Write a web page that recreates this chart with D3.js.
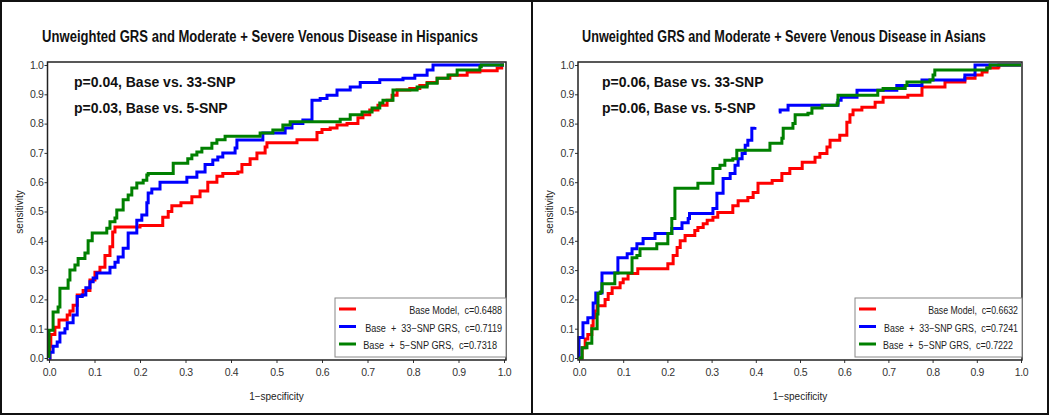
<!DOCTYPE html>
<html><head><meta charset="utf-8">
<script src="https://cdn.jsdelivr.net/npm/d3@7"></script>
<style>
html,body{margin:0;padding:0;background:#fff;}
svg{display:block;}
</style></head>
<body>
<svg id="chart" width="1050" height="416"></svg>
<script>
// ---- data (fpr, sensitivity) step points ----
const titles = ["Unweighted GRS and Moderate + Severe Venous Disease in Hispanics",
                "Unweighted GRS and Moderate + Severe Venous Disease in Asians"];
const pTexts = [["p=0.04, Base vs. 33-SNP", "p=0.03, Base vs. 5-SNP"],
                ["p=0.06, Base vs. 33-SNP", "p=0.06, Base vs. 5-SNP"]];
const legendHisp = ["Base Model,  c=0.6488", "Base  +  33\u2212SNP GRS,  c=0.7119", "Base  +  5\u2212SNP GRS,  c=0.7318"];
const legendAsian = ["Base Model,  c=0.6632", "Base  +  33\u2212SNP GRS,  c=0.7241", "Base  +  5\u2212SNP GRS,  c=0.7222"];
const tickValues = [0,0.1,0.2,0.3,0.4,0.5,0.6,0.7,0.8,0.9,1.0];
const xLabel = "1\u2212specificity";
const yLabel = "sensitivity";
const seriesColors = ["#ff0000", "#0000ff", "#008000"];

const hispRed = [[0,0],[0.002,0.04],[0.004,0.08],[0.013,0.105],[0.022,0.13],[0.04,0.147],[0.046,0.16],[0.053,0.18],[0.062,0.215],[0.075,0.23],[0.09,0.266],[0.101,0.293],[0.112,0.31],[0.123,0.35],[0.134,0.38],[0.14,0.43],[0.145,0.447],[0.2,0.452],[0.25,0.48],[0.262,0.5],[0.27,0.52],[0.29,0.53],[0.314,0.55],[0.332,0.57],[0.349,0.6],[0.369,0.62],[0.382,0.63],[0.415,0.635],[0.424,0.66],[0.442,0.68],[0.457,0.70],[0.475,0.72],[0.479,0.735],[0.545,0.745],[0.589,0.77],[0.6,0.78],[0.618,0.785],[0.633,0.795],[0.655,0.80],[0.679,0.82],[0.69,0.83],[0.705,0.846],[0.723,0.863],[0.743,0.88],[0.754,0.897],[0.765,0.915],[0.793,0.92],[0.815,0.93],[0.831,0.94],[0.853,0.955],[0.881,0.965],[0.919,0.976],[0.947,0.98],[0.985,0.99],[0.995,1.0],[1,1]];
const hispBlue = [[0,0],[0.002,0.02],[0.009,0.04],[0.018,0.055],[0.024,0.085],[0.035,0.10],[0.04,0.12],[0.053,0.147],[0.062,0.21],[0.073,0.215],[0.081,0.24],[0.09,0.26],[0.097,0.273],[0.105,0.29],[0.134,0.31],[0.145,0.327],[0.152,0.345],[0.163,0.375],[0.174,0.427],[0.193,0.47],[0.204,0.488],[0.215,0.53],[0.218,0.563],[0.226,0.577],[0.244,0.60],[0.303,0.617],[0.325,0.635],[0.343,0.66],[0.36,0.676],[0.371,0.686],[0.382,0.70],[0.409,0.717],[0.413,0.744],[0.47,0.768],[0.519,0.785],[0.534,0.80],[0.558,0.812],[0.578,0.83],[0.578,0.88],[0.596,0.886],[0.611,0.897],[0.633,0.915],[0.662,0.925],[0.684,0.94],[0.727,0.95],[0.778,0.955],[0.804,0.965],[0.831,0.983],[0.844,1.0],[1,1]];
const hispGreen = [[0,0],[0,0.095],[0.009,0.157],[0.02,0.174],[0.024,0.238],[0.042,0.266],[0.046,0.30],[0.057,0.317],[0.064,0.34],[0.079,0.358],[0.086,0.40],[0.095,0.427],[0.127,0.443],[0.134,0.465],[0.145,0.478],[0.149,0.505],[0.163,0.54],[0.174,0.556],[0.182,0.58],[0.193,0.597],[0.207,0.607],[0.215,0.625],[0.218,0.63],[0.273,0.665],[0.305,0.68],[0.314,0.693],[0.325,0.703],[0.336,0.716],[0.358,0.733],[0.369,0.745],[0.387,0.757],[0.464,0.768],[0.492,0.778],[0.514,0.795],[0.53,0.806],[0.64,0.815],[0.662,0.83],[0.688,0.84],[0.71,0.853],[0.727,0.87],[0.734,0.88],[0.756,0.915],[0.809,0.925],[0.831,0.938],[0.853,0.955],[0.877,0.966],[0.897,0.983],[0.947,0.994],[0.95,1.0],[1,1]];

const asianRed = [[0,0],[0.007,0.035],[0.014,0.065],[0.02,0.08],[0.029,0.11],[0.032,0.137],[0.036,0.16],[0.041,0.178],[0.059,0.20],[0.066,0.22],[0.075,0.24],[0.093,0.257],[0.1,0.27],[0.111,0.288],[0.133,0.305],[0.201,0.322],[0.213,0.35],[0.222,0.377],[0.229,0.40],[0.24,0.418],[0.262,0.435],[0.269,0.445],[0.281,0.458],[0.29,0.47],[0.303,0.48],[0.314,0.497],[0.348,0.52],[0.36,0.537],[0.382,0.548],[0.394,0.565],[0.405,0.596],[0.437,0.606],[0.459,0.63],[0.477,0.647],[0.505,0.668],[0.534,0.685],[0.545,0.698],[0.561,0.72],[0.568,0.743],[0.59,0.76],[0.606,0.805],[0.613,0.83],[0.62,0.846],[0.64,0.856],[0.67,0.873],[0.688,0.89],[0.744,0.897],[0.776,0.925],[0.828,0.942],[0.873,0.955],[0.896,0.966],[0.912,0.976],[0.923,0.99],[0.948,0.993],[0.95,1.0],[1,1]];
const asianBlue = [[0,0],[0,0.07],[0.009,0.12],[0.02,0.137],[0.032,0.188],[0.038,0.222],[0.052,0.29],[0.088,0.342],[0.109,0.356],[0.12,0.373],[0.131,0.39],[0.145,0.408],[0.172,0.425],[0.21,0.442],[0.233,0.462],[0.247,0.476],[0.25,0.493],[0.303,0.51],[0.312,0.562],[0.326,0.613],[0.342,0.63],[0.353,0.658],[0.36,0.68],[0.369,0.698],[0.376,0.726],[0.382,0.743],[0.391,0.784],[0.398,0.788],null,[0.452,0.84],[0.455,0.846],[0.473,0.863],[0.586,0.88],[0.593,0.89],[0.629,0.914],[0.719,0.93],[0.776,0.949],[0.873,0.966],[0.896,1.0],[1,1]];
const asianGreen = [[0,0],[0.007,0.035],[0.018,0.05],[0.029,0.10],[0.041,0.15],[0.043,0.22],[0.048,0.225],[0.052,0.253],[0.081,0.29],[0.12,0.342],[0.131,0.35],[0.138,0.373],[0.176,0.39],[0.201,0.425],[0.21,0.476],[0.217,0.579],[0.269,0.596],[0.303,0.647],[0.319,0.658],[0.33,0.675],[0.348,0.68],[0.357,0.709],[0.432,0.733],[0.459,0.75],[0.462,0.784],[0.484,0.80],[0.489,0.83],[0.518,0.835],[0.527,0.853],[0.55,0.863],[0.584,0.87],[0.586,0.897],[0.676,0.914],[0.688,0.92],[0.738,0.93],[0.742,0.942],[0.794,0.949],[0.801,0.966],[0.805,0.983],[0.923,0.99],[0.93,1.0],[1,1]];

// ---- drawing ----
const svg = d3.select("#chart");
const FONT = "'Liberation Sans', Arial, sans-serif";
const NARROW = "'Liberation Sans Narrow', 'Arial Narrow', 'Liberation Sans', Arial, sans-serif";

// place a text with its anchor at (x,y), then squeeze horizontally to a target width
function fitText(sel, x, y, width) {
  sel.attr("x", 0).attr("y", 0).attr("transform", `translate(${x},${y})`);
  const w = sel.node().getComputedTextLength();
  const s = w > 0 ? width / w : 1;
  sel.attr("transform", `translate(${x},${y}) scale(${s},1)`);
  return sel;
}

// outer frame
const outer = svg.append("g").attr("stroke", "#111").attr("stroke-width", 2).attr("fill", "none");
outer.append("rect").attr("x", 1).attr("y", 1).attr("width", 1047).attr("height", 413);
outer.append("line").attr("x1", 532).attr("x2", 532).attr("y1", 1).attr("y2", 414);

const panels = [
  {title: titles[0], p: pTexts[0], legend: legendHisp, series: [hispRed, hispBlue, hispGreen],
   px0: 49, px1: 504, frameL: 47.5, frameR: 506, titleX: 260, titleW: 436, pX: 74, ylabX: 20,
   legX: 335, legR: 506, legW: [93, 137, 134], legEnd: [502, 502, 497]},
  {title: titles[1], p: pTexts[1], legend: legendAsian, series: [asianRed, asianBlue, asianGreen],
   px0: 579, px1: 1021, frameL: 578, frameR: 1022, titleX: 784, titleW: 404, pX: 602, ylabX: 550,
   legX: 855, legR: 1022, legW: [90, 134, 130], legEnd: [1018, 1018, 1013]}
];

const py0 = 358, py1 = 65, frameT = 62, frameB = 360;

panels.forEach(P => {
  const g = svg.append("g");
  const x = d3.scaleLinear().domain([0, 1]).range([P.px0, P.px1]);
  const y = d3.scaleLinear().domain([0, 1]).range([py0, py1]);

  // title
  const t = g.append("text").attr("text-anchor", "middle")
    .attr("font-family", NARROW).attr("font-weight", "bold").attr("font-size", 17)
    .attr("fill", "#111").text(P.title);
  fitText(t, P.titleX, 42, P.titleW);

  // axes
  const xAxis = d3.axisBottom(x).tickValues(tickValues).tickFormat(d3.format(".1f")).tickSize(3).tickPadding(6);
  const yAxis = d3.axisLeft(y).tickValues(tickValues).tickFormat(d3.format(".1f")).tickSize(3).tickPadding(1);
  const gx = g.append("g").attr("transform", `translate(0,${frameB})`).call(xAxis);
  const gy = g.append("g").attr("transform", `translate(${P.frameL},0)`).call(yAxis);
  [gx, gy].forEach(a => {
    a.select(".domain").remove();
    a.selectAll(".tick line").attr("stroke", "#333");
    a.selectAll(".tick text").attr("font-family", FONT).attr("font-size", 10.5)
      .attr("fill", "#333").attr("letter-spacing", -0.4);
  });

  // axis labels
  g.append("text").attr("x", (P.px0 + P.px1) / 2).attr("y", 400).attr("text-anchor", "middle")
    .attr("font-family", FONT).attr("font-size", 10).attr("fill", "#222").text(xLabel);
  g.append("text").attr("transform", `translate(${P.ylabX + 3},${212}) rotate(-90)`).attr("text-anchor", "middle")
    .attr("font-family", FONT).attr("font-size", 10).attr("fill", "#222").text(yLabel);

  // curves
  const line = d3.line().defined(d => d !== null).x(d => x(d[0])).y(d => y(d[1])).curve(d3.curveStepAfter);
  P.series.forEach((s, i) => {
    g.append("path").datum(s).attr("d", line).attr("fill", "none")
      .attr("stroke", seriesColors[i]).attr("stroke-width", 3).attr("stroke-linejoin", "miter");
  });

  // plot frame
  g.append("rect").attr("x", P.frameL).attr("y", frameT).attr("width", P.frameR - P.frameL)
    .attr("height", frameB - frameT).attr("fill", "none").attr("stroke", "#222").attr("stroke-width", 1.5);

  // p-value texts
  P.p.forEach((tx, i) => {
    g.append("text").attr("x", P.pX).attr("y", 87 + i * 26).attr("font-family", FONT)
      .attr("font-weight", "bold").attr("font-size", 14).attr("fill", "#111").text(tx);
  });

  // legend
  const lg = g.append("g");
  lg.append("rect").attr("x", P.legX).attr("y", 298).attr("width", P.legR - P.legX).attr("height", 59)
    .attr("fill", "#fff").attr("stroke", "#888").attr("stroke-width", 1);
  P.legend.forEach((tx, i) => {
    const yy = 309 + i * 17.5;
    lg.append("line").attr("x1", P.legX + 4).attr("x2", P.legX + 21).attr("y1", yy).attr("y2", yy)
      .attr("stroke", seriesColors[i]).attr("stroke-width", 3);
    const lt = lg.append("text").attr("text-anchor", "end").attr("xml:space", "preserve")
      .style("white-space", "pre")
      .attr("font-family", FONT).attr("font-size", 10).attr("fill", "#222").text(tx);
    fitText(lt, P.legEnd[i], yy + 5, P.legW[i]);
  });
});
</script>
</body></html>
